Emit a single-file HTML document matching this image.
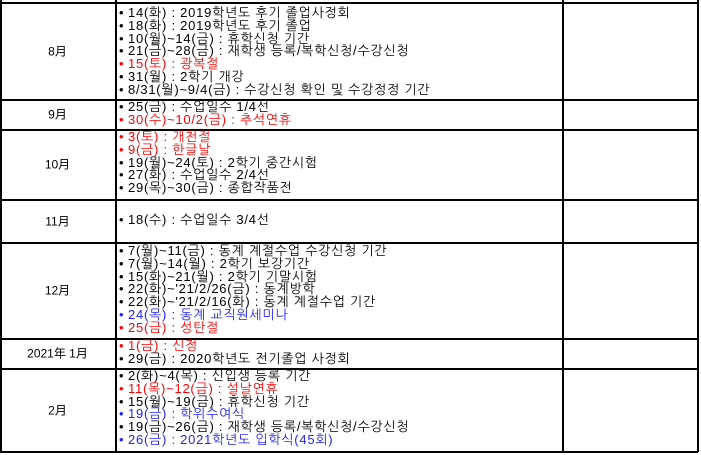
<!DOCTYPE html>
<html><head><meta charset="utf-8"><style>
body{margin:0;width:701px;height:455px;background:#fff;position:relative;overflow:hidden;font-family:"Liberation Sans","NanumGothic","Noto Sans CJK KR",sans-serif;font-size:13px;color:#000}
.hl{position:absolute;left:0;width:698px;height:1.5px;background:#000}
.vl{position:absolute;top:0;width:1.5px;height:452px;background:#000}
.row{position:absolute;left:0;width:698px}
.m{position:absolute;left:0;width:115px;text-align:center;top:50%;transform:translateY(-50%);font-size:12px}
ul{position:absolute;left:119px;margin:0;padding:0;list-style:none;letter-spacing:0.75px}
li{height:12.8px;line-height:12.8px;white-space:nowrap}
li:before{content:"•";display:inline-block;width:9px;letter-spacing:0}
.r{color:#f00}.b{color:#22f}
</style></head><body>
<div class="vl" style="left:0"></div>
<div class="vl" style="left:115px"></div>
<div class="vl" style="left:562px"></div>
<div class="vl" style="left:697px"></div>
<div class="hl" style="top:2px"></div>
<div class="hl" style="top:99px"></div>
<div class="hl" style="top:129px"></div>
<div class="hl" style="top:199px"></div>
<div class="hl" style="top:242px"></div>
<div class="hl" style="top:338px"></div>
<div class="hl" style="top:368px"></div>
<div class="hl" style="top:451px"></div>

<div class="row" style="top:2px;height:97px"><div class="m">8月</div>
<ul style="top:5px">
<li>14(화) : 2019학년도 후기 졸업사정회</li><li>18(화) : 2019학년도 후기 졸업</li><li>10(월)~14(금) : 휴학신청 기간</li><li>21(금)~28(금) : 재학생 등록/복학신청/수강신청</li><li class="r">15(토) : 광복절</li><li>31(월) : 2학기 개강</li><li>8/31(월)~9/4(금) : 수강신청 확인 및 수강정정 기간</li></ul></div>

<div class="row" style="top:99px;height:30px"><div class="m">9月</div>
<ul style="top:2px"><li>25(금) : 수업일수 1/4선</li><li class="r">30(수)~10/2(금) : 추석연휴</li></ul></div>

<div class="row" style="top:129px;height:70px"><div class="m">10月</div>
<ul style="top:2px"><li class="r">3(토) : 개천절</li><li class="r">9(금) : 한글날</li><li>19(월)~24(토) : 2학기 중간시험</li><li>27(화) : 수업일수 2/4선</li><li>29(목)~30(금) : 종합작품전</li></ul></div>

<div class="row" style="top:199px;height:43px"><div class="m">11月</div>
<ul style="top:15px"><li>18(수) : 수업일수 3/4선</li></ul></div>

<div class="row" style="top:242px;height:96px"><div class="m">12月</div>
<ul style="top:3px"><li>7(월)~11(금) : 동계 계절수업 수강신청 기간</li><li>7(월)~14(월) : 2학기 보강기간</li><li>15(화)~21(월) : 2학기 기말시험</li><li>22(화)~'21/2/26(금) : 동계방학</li><li>22(화)~'21/2/16(화) : 동계 계절수업 기간</li><li class="b">24(목) : 동계 교직원세미나</li><li class="r">25(금) : 성탄절</li></ul></div>

<div class="row" style="top:338px;height:30px"><div class="m">2021年 1月</div>
<ul style="top:2px"><li class="r">1(금) : 신정</li><li>29(금) : 2020학년도 전기졸업 사정회</li></ul></div>

<div class="row" style="top:368px;height:83px"><div class="m">2月</div>
<ul style="top:2px"><li>2(화)~4(목) : 신입생 등록 기간</li><li class="r">11(목)~12(금) : 설날연휴</li><li>15(월)~19(금) : 휴학신청 기간</li><li class="b">19(금) : 학위수여식</li><li>19(금)~26(금) : 재학생 등록/복학신청/수강신청</li><li class="b">26(금) : 2021학년도 입학식(45회)</li></ul></div>
</body></html>
